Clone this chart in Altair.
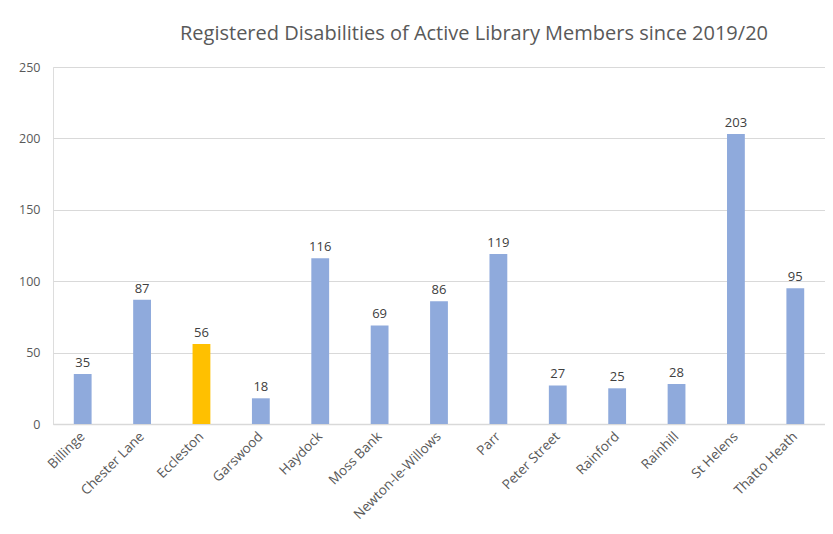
import altair as alt
import pandas as pd

branches = ["Billinge", "Chester Lane", "Eccleston", "Garswood", "Haydock", "Moss Bank",
            "Newton-le-Willows", "Parr", "Peter Street", "Rainford", "Rainhill", "St Helens",
            "Thatto Heath"]
values = [35, 87, 56, 18, 116, 69, 86, 119, 27, 25, 28, 203, 95]
highlight = ["no", "no", "yes", "no", "no", "no", "no", "no", "no", "no", "no", "no", "no"]

df = pd.DataFrame({"branch": branches, "value": values, "hl": highlight})

FONT = "Open Sans"

x = alt.X("branch:N", sort=branches, title=None,
          scale=alt.Scale(paddingInner=0.7, paddingOuter=0.35),
          axis=alt.Axis(labelAngle=-45, labelAlign="right", labelBaseline="middle",
                        labelPadding=10, ticks=False, domainColor="#d9d9d9",
                        domainWidth=1.5, labelColor="#595959", labelFontSize=13.5,
                        labelFont=FONT, grid=False))
y = alt.Y("value:Q", title=None,
          scale=alt.Scale(domain=[0, 250], nice=False),
          axis=alt.Axis(values=[0, 50, 100, 150, 200, 250], domain=False, ticks=False,
                        gridColor="#d9d9d9", labelColor="#595959", labelFontSize=12.5,
                        labelFont=FONT, labelPadding=13))

bars = alt.Chart(df).mark_bar().encode(
    x=x, y=y,
    color=alt.Color("hl:N", scale=alt.Scale(domain=["no", "yes"], range=["#8FAADC", "#FFC000"]),
                    legend=None),
)
labels = alt.Chart(df).mark_text(dy=-11, font=FONT, fontSize=13, color="#404040").encode(
    x=alt.X("branch:N", sort=branches), y="value:Q", text="value:Q"
)

chart = (bars + labels).properties(
    width=772, height=357,
    title=alt.TitleParams("Registered Disabilities of Active Library Members since 2019/20",
                          anchor="start", frame="group", dx=127, offset=17, font=FONT,
                          fontSize=20, fontWeight="normal", color="#595959"),
    autosize=alt.AutoSizeParams(type="none"),
    padding={"left": 45, "top": 59, "right": 0, "bottom": 100},
).configure_view(stroke=None).configure(background="white")

chart.save("out.html", embed_options={"renderer": "svg", "actions": False})
